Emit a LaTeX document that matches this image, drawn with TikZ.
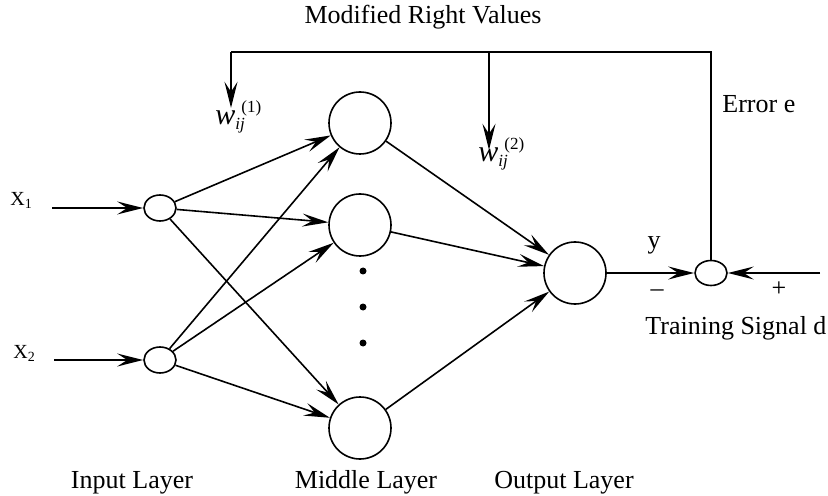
\documentclass[tikz,border=0pt]{standalone}
\usepackage{fontspec}
\setmainfont{Liberation Serif}
\usetikzlibrary{shapes,
                arrows.meta,
                positioning}
\tikzset{neuron/.style =
   {circle,
    draw,
    line width=0.8pt,
    inner sep=0pt,
    minimum size=31pt}}
\tikzset{small-neuron/.style =
   {ellipse,
    draw,
    line width=0.8pt,
    inner sep=0pt,
    minimum width=16pt,
    minimum height=13pt}}
\tikzset{dot/.style =
   {circle,
    fill,
    inner sep=0pt,
    minimum size=3.5pt}}
\tikzset{caption/.style =
   {inner sep=0pt,
    anchor=base}}
\tikzset{input-label/.style =
   {inner sep=0pt,
    anchor=base west,
    font=\fontsize{10}{12}\selectfont}}
\tikzset{arrow/.style = {draw, line width=0.8pt, -{Stealth[length=13pt, width=6.5pt, inset=5pt]}}}
\tikzset{line/.style = {draw, line width=0.8pt}}
\newcommand{\wlabel}[1]{{\fontsize{15}{15}\selectfont\itshape w}\raisebox{-2.5pt}{\fontsize{8.5}{8.5}\selectfont\vbox{\baselineskip=8.5pt\lineskiplimit=-10pt\hbox{\hspace{3pt}(#1)}\hbox{\itshape ij}}}}

\begin{document}
\begin{tikzpicture}[x=0.5pt, y=-0.5pt, font=\fontsize{13}{15}\selectfont]
    \useasboundingbox (0,0) rectangle (828,496);

    \node [small-neuron] (in1) at (160,208) {};
    \node [small-neuron] (in2) at (160,360) {};
    \node [neuron] (mid1) at (360,123) {};
    \node [neuron] (mid2) at (360,225) {};
    \node [neuron] (mid3) at (360,428) {};
    \node [neuron] (out) at (575,273) {};
    \node [small-neuron, minimum height=12.5pt] (sum) at (711,273) {};

    \node [dot] (dot1) at (363,271) {};
    \node [dot] (dot2) at (363,307) {};
    \node [dot] (dot3) at (363,343) {};

    \node [input-label] (x1) at (10,206) {X\textsubscript{1}};
    \node [input-label] (x2) at (13,358) {X\textsubscript{2}};
    \coordinate (x1in) at (52,208);
    \coordinate (x2in) at (54,360);
    \coordinate (din) at (820,273);
    \coordinate (fbR) at (711,52);
    \coordinate (fbM) at (489,52);
    \coordinate (fbL) at (231,52);

    \node [caption, anchor=base west] (w1) at (215,125) {\wlabel{1}};
    \node [caption, anchor=base west] (w2) at (478,162) {\wlabel{2}};

    \node [caption] (title) at (423,24) {Modified Right Values};
    \node [caption, anchor=base west] (err) at (722,113) {Error e};
    \node [caption] (ylab) at (654,249) {y};
    \node [caption] (minus) at (657,296) {--};
    \node [caption] (plus) at (779,296) {+};
    \node [caption, anchor=base west] (train) at (645,334) {Training Signal d};
    \node [caption] (inlab) at (132,488) {Input Layer};
    \node [caption] (midlab) at (366,488) {Middle Layer};
    \node [caption] (outlab) at (564,488) {Output Layer};

    \path [arrow] (x1in) -- (in1);
    \path [arrow] (x2in) -- (in2);
    \foreach \i in {in1,in2}
        \foreach \m in {mid1,mid2,mid3}
            \path [arrow] (\i) -- (\m);
    \foreach \m in {mid1,mid2,mid3}
        \path [arrow] (\m) -- (out);
    \path [arrow] (out) -- (sum);
    \path [arrow] (din) -- (sum);
    \path [line] (sum) -- (fbR) -- (fbL);
    \path [arrow] (fbL) -- ([yshift=-3.5pt]fbL |- w1.north);
    \path [arrow] (fbM) -- ([yshift=-6pt]fbM |- w2.north);

\end{tikzpicture}
\end{document}
